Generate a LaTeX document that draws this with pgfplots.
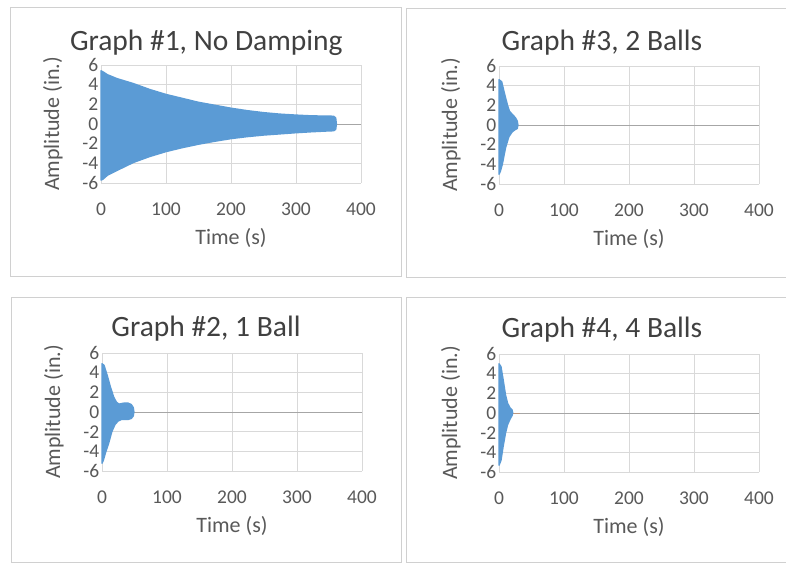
\documentclass[border=0pt]{standalone}
\usepackage{pgfplots}
\pgfplotsset{compat=1.18}
\usepackage{fontspec}
\setmainfont{Carlito}
\definecolor{gridc}{HTML}{D9D9D9}
\definecolor{boxc}{HTML}{D0D0D0}
\definecolor{zeroc}{HTML}{A6A6A6}
\definecolor{textc}{HTML}{595959}
\definecolor{titlec}{HTML}{404040}
\definecolor{sig}{HTML}{5B9BD5}
\definecolor{org}{HTML}{ED7D31}
\pgfplotsset{
  panel/.style={
    scale only axis, width=260pt, height=118pt,
    xmin=0, xmax=400, ymin=-6, ymax=6,
    xtick={0,100,...,400}, ytick={-6,-4,...,6},
    grid=major, major grid style={draw=gridc, line width=0.8pt},
    axis line style={draw=none},
    major tick length=0pt,
    /pgf/number format/assume math mode=true,
    tick label style={font=\fontsize{19.5}{19.5}\selectfont, text=textc},
    xticklabel style={yshift=-16pt},
    yticklabel style={xshift=-1pt, inner sep=1.5pt},
    xlabel={Time (s)}, ylabel={Amplitude (in.)},
    label style={font=\fontsize{22}{22}\selectfont, text=textc},
    xlabel style={at={(axis description cs:0.5,-0.466)}, anchor=center},
    ylabel style={at={(axis description cs:-0.185,0.5)}, anchor=center},
    title style={font=\fontsize{29.5}{29.5}\selectfont, text=titlec, anchor=base, yshift=-2pt},
    clip=false,
  },
  zero/.style={draw=zeroc, line width=1pt},
  env/.style={fill=sig, draw=sig, line width=1.5pt, line join=round},
}
\begin{document}
\begin{tikzpicture}
\useasboundingbox (0,0) rectangle (786pt,563pt);
\fill[white] (0,0) rectangle (786pt,563pt);
% panel frames
\draw[boxc, line width=1pt] (10pt,287pt) rectangle (401pt,555pt);
\draw[boxc, line width=1pt] (406pt,286pt) rectangle (792pt,554pt);
\draw[boxc, line width=1pt] (11pt,1pt) rectangle (401pt,266pt);
\draw[boxc, line width=1pt] (406pt,1pt) rectangle (792pt,266pt);

% Graph 1
\begin{axis}[panel, at={(101pt,380pt)}, anchor=south west,
  title={Graph \#1, No Damping},
  title style={at={(axis description cs:0.405,1.085)}}]
\addplot[zero] coordinates {(0,0) (400,0)};
\addplot[env] coordinates {
(0,-5.7) (0,5.4) (3,5.3) (10,5.0) (25,4.6) (50,4.1) (75,3.5) (100,3.0)
(125,2.6) (150,2.2) (175,1.9) (200,1.6) (225,1.35) (250,1.15) (275,1.0)
(300,0.9) (325,0.82) (350,0.8) (358,0.78) (361,0.6) (362,0)
(361,-0.55) (358,-0.68) (350,-0.7) (325,-0.78) (300,-0.88) (275,-1.0)
(250,-1.12) (225,-1.28) (200,-1.48) (175,-1.75) (150,-2.05) (125,-2.4)
(100,-2.8) (75,-3.3) (50,-3.9) (25,-4.7) (10,-5.2) (3,-5.6) (0,-5.7)
} -- cycle;
\end{axis}

% Graph 3
\begin{axis}[panel, at={(499pt,379pt)}, anchor=south west,
  title={Graph \#3, 2 Balls},
  title style={at={(axis description cs:0.396,1.10)}}]
\addplot[zero] coordinates {(0,0) (400,0)};
\addplot[env] coordinates {
(0,-5.0) (0,4.6) (4,4.4) (8,3.3) (13,2.0) (16,1.4) (20,1.1) (25,0.75)
(28,0.4) (29,0) (28,-0.35) (25,-0.45) (20,-0.7) (15,-1.2) (10,-2.3)
(5,-4.0) (2,-4.7) (0,-5.0)
} -- cycle;
\end{axis}

% Graph 2
\begin{axis}[panel, at={(102pt,92pt)}, anchor=south west,
  title={Graph \#2, 1 Ball},
  title style={at={(axis description cs:0.40,1.11)}}]
\addplot[zero] coordinates {(0,0) (400,0)};
\addplot[env] coordinates {
(0,-5.2) (0,4.9) (3,4.75) (8,3.7) (13,2.5) (18,1.5) (22,1.0) (26,0.8)
(30,0.85) (34,0.9) (40,0.9) (45,0.75) (48,0.45) (49,0)
(48,-0.4) (45,-0.65) (40,-0.75) (34,-0.75) (30,-0.75) (25,-0.9)
(20,-1.25) (15,-2.0) (10,-3.2) (5,-4.2) (2,-4.9) (0,-5.2)
} -- cycle;
\end{axis}

% Graph 4
\begin{axis}[panel, at={(499pt,91pt)}, anchor=south west,
  title={Graph \#4, 4 Balls},
  title style={at={(axis description cs:0.396,1.11)}}]
\addplot[zero] coordinates {(0,0) (400,0)};
\addplot[draw=org, opacity=0.35, line width=1pt] coordinates {(0,0) (33,0)};
\addplot[env] coordinates {
(0,-5.3) (0,5.0) (3,4.7) (6,3.5) (10,1.8) (13,1.0) (17,0.5) (20,0.3)
(21,0) (20,-0.25) (17,-0.6) (13,-1.2) (10,-2.0) (6,-3.5) (3,-4.8) (0,-5.3)
} -- cycle;
\end{axis}
\end{tikzpicture}
\end{document}
